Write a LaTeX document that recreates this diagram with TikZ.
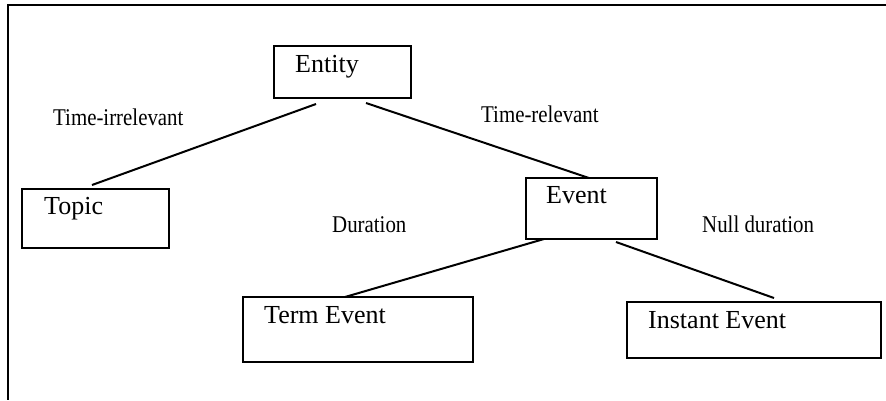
\documentclass[tikz,border=0pt]{standalone}
\usepackage{fontspec}
\setmainfont{Liberation Serif}
\begin{document}
\begin{tikzpicture}[x=1pt,y=-1pt,
  box/.style={draw,line width=2pt,rectangle,inner sep=0pt,outer sep=0pt,anchor=north west},
  boxtext/.style={anchor=base west,inner sep=0pt,font=\fontsize{26}{30}\selectfont},
  lbl/.style={anchor=base west,inner sep=0pt,xscale=0.87,font=\fontsize{24}{28}\selectfont},
  conn/.style={line width=2pt}]
\useasboundingbox (0,0) rectangle (886,400);
% frame (top and left only)
\coordinate (ftr) at (886,5);
\coordinate (ftl) at (8,5);
\coordinate (fbl) at (8,400);
\draw[line width=2.2pt] (ftr) -- (ftl) -- (fbl);
% boxes
\node[box,minimum width=137pt,minimum height=52pt] (entity) at (274,46) {};
\node[box,minimum width=147pt,minimum height=59pt] (topic) at (22,189) {};
\node[box,minimum width=131pt,minimum height=61pt] (event) at (526,178) {};
\node[box,minimum width=230pt,minimum height=65pt] (term) at (243,297) {};
\node[box,minimum width=254pt,minimum height=56pt] (instant) at (627,302) {};
% box texts
\node[boxtext] (entityT) at (295,72) {Entity};
\node[boxtext] (topicT) at (44,214) {Topic};
\node[boxtext] (eventT) at (546,203) {Event};
\node[boxtext] (termT) at (264,323) {Term Event};
\node[boxtext] (instantT) at (648,328) {Instant Event};
% labels
\node[lbl] (l1) at (53,125) {Time-irrelevant};
\node[lbl] (l2) at (481,122) {Time-relevant};
\node[lbl] (l3) at (332,232) {Duration};
\node[lbl] (l4) at (702,232) {Null duration};
% connectors
\draw[conn] ([xshift=42pt,yshift=-6pt]entity.south west) -- ([xshift=70pt,yshift=4pt]topic.north west);
\draw[conn] ([xshift=92pt,yshift=-5pt]entity.south west) -- ([xshift=63pt]event.north west);
\draw[conn] ([xshift=18pt]event.south west) -- ([xshift=102pt]term.north west);
\draw[conn] ([xshift=90pt,yshift=-3pt]event.south west) -- ([xshift=147pt,yshift=4pt]instant.north west);
\end{tikzpicture}
\end{document}
